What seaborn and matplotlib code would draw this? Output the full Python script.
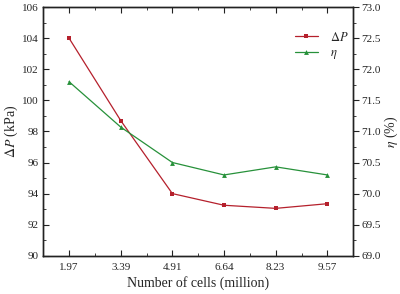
import numpy as np
import matplotlib
matplotlib.use("Agg")
import matplotlib.pyplot as plt
import seaborn as sns
from matplotlib.ticker import AutoMinorLocator, MultipleLocator, FixedLocator, FormatStrFormatter

# 数据
cells = ["1.97", "3.39", "4.91", "6.64", "8.23", "9.57"]
dp = [104.0, 98.7, 94.0, 93.25, 93.05, 93.35]
eta = [71.8, 71.07, 70.5, 70.3, 70.43, 70.3]

sns.set_style("ticks")
plt.rcParams["font.family"] = ["Liberation Serif", "DejaVu Serif"]
plt.rcParams["mathtext.fontset"] = "stix"

fig, ax = plt.subplots(figsize=(4.0, 2.94), dpi=100)
fig.subplots_adjust(left=0.108, right=0.883, top=0.976, bottom=0.13)
ax2 = ax.twinx()

x = np.arange(len(cells))
red = "#b5202c"
green = "#27913a"
sns.lineplot(x=x, y=dp, ax=ax, color=red, marker="s", markersize=3,
             markeredgewidth=0, linewidth=0.9, label=r"$\Delta P$", legend=False)
sns.lineplot(x=x, y=eta, ax=ax2, color=green, marker="^", markersize=3.5,
             markeredgewidth=0, linewidth=0.9, label=r"$\eta$", legend=False)

ax.set_xlim(-0.5, 5.5)
ax.set_xticks(x)
ax.set_xticklabels(cells)
ax.xaxis.set_minor_locator(FixedLocator(x[:-1] + 0.5))
ax.set_ylim(90, 106)
ax.yaxis.set_major_locator(MultipleLocator(2))
ax.yaxis.set_minor_locator(AutoMinorLocator(2))
ax2.set_ylim(69, 73)
ax2.yaxis.set_major_locator(MultipleLocator(0.5))
ax2.yaxis.set_minor_locator(AutoMinorLocator(2))
ax2.yaxis.set_major_formatter(FormatStrFormatter("%.1f"))

for a in (ax, ax2):
    for s in a.spines.values():
        s.set_linewidth(1.0)
        s.set_color("#222222")
ax.tick_params(axis="both", which="both", direction="in", labelsize=8, top=True,
               color="#222222", pad=3)
ax.tick_params(axis="x", which="major", pad=5)
ax.tick_params(which="major", length=4)
ax.tick_params(which="minor", length=2)
ax2.tick_params(axis="y", which="both", direction="out", labelsize=8,
                color="#222222", pad=2)
ax2.tick_params(which="major", length=4)
ax2.tick_params(which="minor", length=2)

ax.set_xlabel("Number of cells (million)", fontsize=10, labelpad=3)
ax.set_ylabel(r"$\Delta P$ (kPa)", fontsize=10, labelpad=2)
ax2.set_ylabel(r"$\eta$ (%)", fontsize=10, labelpad=1)

h1, l1 = ax.get_legend_handles_labels()
h2, l2 = ax2.get_legend_handles_labels()
ax2.legend(h1 + h2, l1 + l2, loc="upper right", frameon=False, fontsize=9,
           handlelength=1.9, handletextpad=0.9, labelspacing=0.3,
           bbox_to_anchor=(1.02, 0.95))

plt.savefig("out.png", dpi=100)
